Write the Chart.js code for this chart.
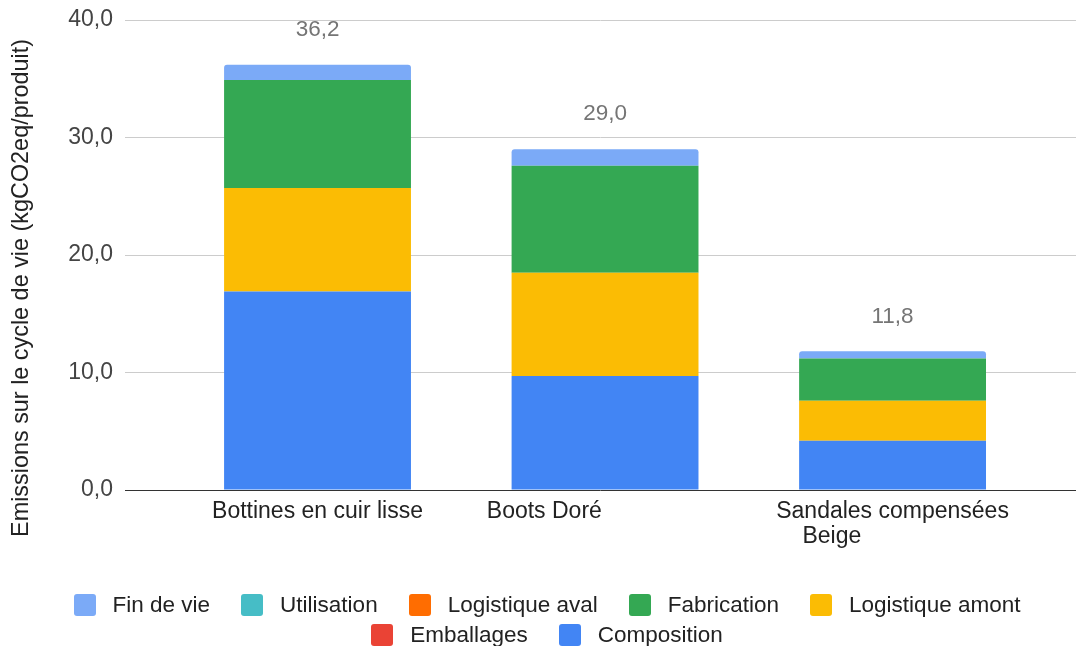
<!DOCTYPE html>
<html lang="fr">
<head>
<meta charset="utf-8">
<script src="https://cdn.jsdelivr.net/npm/chart.js@4.4.1/dist/chart.umd.min.js"></script>
<style>
  html, body { margin: 0; padding: 0; background: #fff; }
  #wrap { position: relative; width: 1076px; height: 646px; overflow: hidden; }
  #legend {
    position: absolute; left: 18px; top: 594px; width: 1058px;
    display: flex; flex-wrap: wrap; justify-content: center;
    column-gap: 31px; row-gap: 8px;
    font: 22.5px "Liberation Sans", Arial, sans-serif; color: #222; line-height: 22px;
  }
  .item { display: flex; align-items: center; white-space: nowrap; }
  .box { width: 22px; height: 22px; border-radius: 3px; margin-right: 17px; }
</style>
</head>
<body>
<div id="wrap">
  <canvas id="c" width="1076" height="646"></canvas>
  <div id="legend"></div>
</div>
<script>
// Products (x axis); the trailing spaces belong to the source labels
const categories = [
  'Bottines en cuir lisse',
  'Boots Doré                   ',
  ['Sandales compensées', 'Beige                   ']
];

// Life-cycle emissions per stage, kgCO2eq per product
const composition     = [16.9, 9.7, 4.2];
const emballages      = [0, 0, 0];
const logistiqueAmont = [8.8, 8.8, 3.4];
const fabrication     = [9.2, 9.1, 3.6];
const logistiqueAval  = [0, 0, 0];
const utilisation     = [0, 0, 0];
const finDeVie        = [1.3, 1.4, 0.6];

const yTicks = [0, 10, 20, 30, 40];
const yTitle = 'Emissions sur le cycle de vie (kgCO2eq/produit)';

const FONT = '"Liberation Sans", Arial, sans-serif';
const fmt = v => v.toFixed(1).replace('.', ',');

const stages = [
  { label: 'Composition',      data: composition,     color: '#4285F4' },
  { label: 'Emballages',       data: emballages,      color: '#EA4335' },
  { label: 'Logistique amont', data: logistiqueAmont, color: '#FBBC04' },
  { label: 'Fabrication',      data: fabrication,     color: '#34A853' },
  { label: 'Logistique aval',  data: logistiqueAval,  color: '#FF6D01' },
  { label: 'Utilisation',      data: utilisation,     color: '#46BDC6' },
  { label: 'Fin de vie',       data: finDeVie,        color: '#7BAAF7' }
];

const datasets = stages.map((s, k) => ({
  label: s.label,
  data: s.data.map((v, i) => ({ x: i, y: v })),
  backgroundColor: s.color,
  borderWidth: 0,
  borderRadius: k === stages.length - 1 ? { topLeft: 3, topRight: 3 } : 0,
  categoryPercentage: 0.65,
  barPercentage: 1
}));

const totals = categories.map((_, i) => stages.reduce((a, s) => a + s.data[i], 0));

// Rotated y title and stack totals above each bar
const extras = {
  id: 'extras',
  afterDatasetsDraw(chart) {
    const { ctx, scales: { x, y } } = chart;
    ctx.save();
    ctx.fillStyle = '#757575';
    ctx.font = '22.5px ' + FONT;
    ctx.textAlign = 'center';
    ctx.textBaseline = 'middle';
    totals.forEach((t, i) => {
      ctx.fillText(fmt(t), x.getPixelForValue(i), y.getPixelForValue(t) - 35);
    });
    ctx.restore();

    ctx.save();
    ctx.translate(22, 288);
    ctx.rotate(-Math.PI / 2);
    ctx.fillStyle = '#222';
    ctx.font = '23.4px ' + FONT;
    ctx.textAlign = 'center';
    ctx.textBaseline = 'middle';
    ctx.fillText(yTitle, 0, 0);
    ctx.restore();
  }
};

const chart = new Chart(document.getElementById('c'), {
  type: 'bar',
  data: { datasets },
  plugins: [extras],
  options: {
    responsive: false,
    devicePixelRatio: 1,
    animation: false,
    layout: { padding: { top: 20, left: 0, right: 0, bottom: 0 } },
    plugins: { legend: { display: false }, tooltip: { enabled: false } },
    scales: {
      x: {
        type: 'linear',
        stacked: true,
        min: -0.6696,
        max: 2.638,
        offset: false,
        afterBuildTicks: axis => { axis.ticks = categories.map((_, i) => ({ value: i })); },
        afterFit: axis => { axis.height = 156; },
        grid: { display: false },
        border: { display: false },
        ticks: {
          autoSkip: false,
          maxRotation: 0,
          minRotation: 0,
          padding: 2,
          color: '#222',
          font: { family: FONT, size: 23, lineHeight: 1.05 },
          callback: v => categories[v]
        }
      },
      y: {
        stacked: true,
        min: 0,
        max: 40,
        afterBuildTicks: axis => { axis.ticks = yTicks.map(v => ({ value: v })); },
        afterFit: axis => { axis.width = 125; },
        grid: {
          drawTicks: false,
          color: c => (c.tick && c.tick.value === 0 ? '#333' : '#ccc'),
          lineWidth: 1
        },
        border: { display: false },
        ticks: {
          padding: 12,
          color: '#444',
          font: { family: FONT, size: 23, lineHeight: 0.6 },
          callback: v => fmt(v)
        }
      }
    }
  }
});

// Legend, listed from the top of the stack down
const legend = document.getElementById('legend');
[...stages].reverse().forEach(s => {
  const item = document.createElement('div');
  item.className = 'item';
  const box = document.createElement('span');
  box.className = 'box';
  box.style.background = s.color;
  const txt = document.createElement('span');
  txt.textContent = s.label;
  item.appendChild(box);
  item.appendChild(txt);
  legend.appendChild(item);
});
</script>
</body>
</html>
